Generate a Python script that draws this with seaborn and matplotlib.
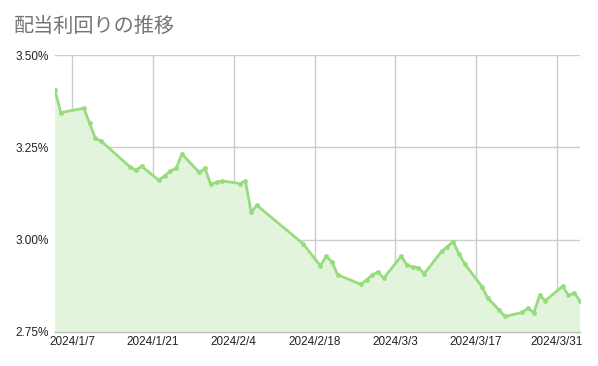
import matplotlib
matplotlib.use("Agg")
import matplotlib.pyplot as plt
from matplotlib.ticker import FuncFormatter
import seaborn as sns
import pandas as pd

dates = [
    "2024-01-04", "2024-01-05", "2024-01-09", "2024-01-10", "2024-01-11", "2024-01-12",
    "2024-01-17", "2024-01-18", "2024-01-19", "2024-01-22", "2024-01-23", "2024-01-24",
    "2024-01-25", "2024-01-26", "2024-01-29", "2024-01-30", "2024-01-31", "2024-02-01",
    "2024-02-02", "2024-02-05", "2024-02-06", "2024-02-07", "2024-02-08", "2024-02-16",
    "2024-02-19", "2024-02-20", "2024-02-21", "2024-02-22", "2024-02-26", "2024-02-27",
    "2024-02-28", "2024-02-29", "2024-03-01", "2024-03-04", "2024-03-05", "2024-03-06",
    "2024-03-07", "2024-03-08", "2024-03-11", "2024-03-12", "2024-03-13", "2024-03-14",
    "2024-03-15", "2024-03-18", "2024-03-19", "2024-03-21", "2024-03-22", "2024-03-25",
    "2024-03-26", "2024-03-27", "2024-03-28", "2024-03-29", "2024-04-01", "2024-04-02",
    "2024-04-03", "2024-04-04",
]
yields = [
    3.404, 3.344, 3.356, 3.315, 3.274, 3.267,
    3.197, 3.188, 3.199, 3.161, 3.173, 3.186,
    3.193, 3.232, 3.182, 3.193, 3.150, 3.155,
    3.159, 3.152, 3.159, 3.075, 3.093, 2.989,
    2.929, 2.955, 2.940, 2.905, 2.879, 2.891,
    2.905, 2.912, 2.896, 2.955, 2.932, 2.926,
    2.924, 2.908, 2.968, 2.981, 2.995, 2.962,
    2.935, 2.873, 2.842, 2.809, 2.792, 2.803,
    2.815, 2.802, 2.849, 2.835, 2.874, 2.849,
    2.855, 2.835,
]
tick_dates = ["2024-01-07", "2024-01-21", "2024-02-04", "2024-02-18",
              "2024-03-03", "2024-03-17", "2024-03-31"]
tick_labels = ["2024/1/7", "2024/1/21", "2024/2/4", "2024/2/18",
               "2024/3/3", "2024/3/17", "2024/3/31"]
y_ticks = [2.75, 3.00, 3.25, 3.50]
title = "配当利回りの推移"

df = pd.DataFrame({"date": pd.to_datetime(dates), "value": yields})

sns.set_theme(style="white")
plt.rcParams["font.family"] = ["Liberation Sans", "DejaVu Sans"]

fig = plt.figure(figsize=(5.98, 3.66), dpi=100)
ax = fig.add_axes([55 / 598, 1 - 332 / 366, 525 / 598, 277 / 366])

line_color = "#98dc80"
fill_color = "#e2f4dc"

ax.fill_between(df["date"], df["value"], 2.0, color=fill_color, linewidth=0, zorder=1)
sns.lineplot(data=df, x="date", y="value", ax=ax, color=line_color, linewidth=2,
             marker="o", markersize=3.5, markeredgewidth=0, zorder=3)

ax.set_xlim(pd.Timestamp("2024-01-04"), pd.Timestamp("2024-04-04"))
ax.set_ylim(2.75, 3.50)
ax.set_xticks(pd.to_datetime(tick_dates))
ax.set_xticklabels(tick_labels)
ax.set_yticks(y_ticks)
ax.yaxis.set_major_formatter(FuncFormatter(lambda v, p: f"{v:.2f}%"))

ax.grid(True, color="#cccccc", linewidth=1, zorder=0)
ax.set_axisbelow(True)
for s in ["left", "right", "top"]:
    ax.spines[s].set_visible(False)
ax.spines["bottom"].set_color("#bbbbbb")
ax.spines["bottom"].set_linewidth(1)
ax.spines["bottom"].set_zorder(4)

ax.tick_params(axis="both", length=0, colors="#222222")
ax.tick_params(axis="x", pad=3.2, labelsize=8.5)
ax.tick_params(axis="y", pad=4.3, labelsize=8.5)
ax.set_xlabel("")
ax.set_ylabel("")

fig.text(14 / 598, 1 - 26 / 366, title, fontsize=14.5, color="#757575",
         ha="left", va="center", family=["Noto Sans CJK JP", "DejaVu Sans"])

fig.savefig("out.png", dpi=100)
